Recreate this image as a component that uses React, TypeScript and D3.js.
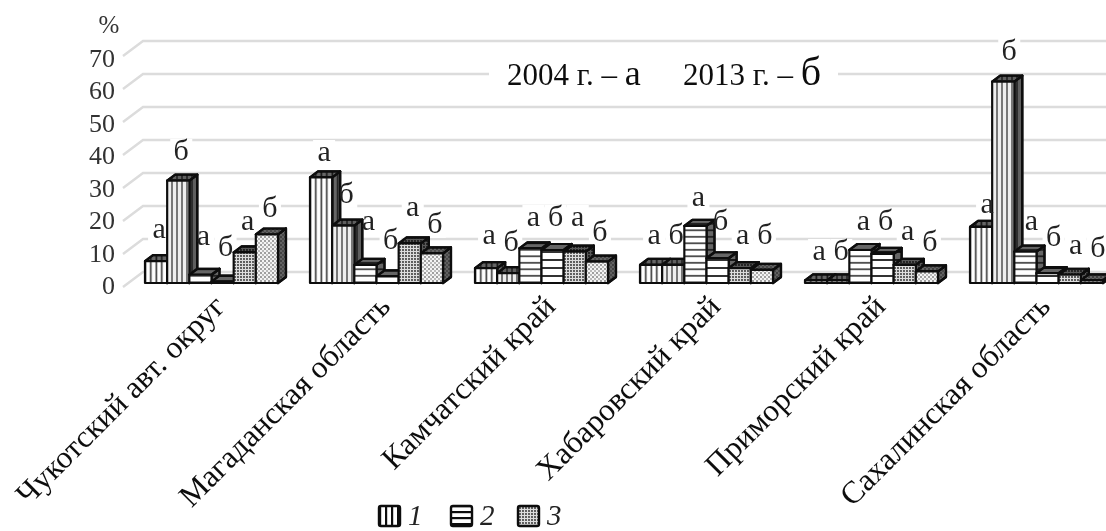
import React from "react";
import * as d3 from "d3";

const categories = ["Чукотский авт. округ", "Магаданская область", "Камчатский край", "Хабаровский край", "Приморский край", "Сахалинская область"];
const barKeys = ["1а", "1б", "2а", "2б", "3а", "3б"];
const barLetters = ["а", "б", "а", "б", "а", "б"];
const chukotka = [6.6, 31, 2.5, 0.4, 9.3, 14.7];
const magadan = [32, 17.4, 5.5, 2, 12, 9];
const kamchatka = [4.5, 3, 10.5, 10, 9.5, 6.5];
const khabarovsk = [5.5, 5.5, 17.3, 7.5, 4.5, 4];
const primorsky = [0.8, 0.8, 10, 8.8, 5.5, 3.5];
const sakhalin = [17, 61, 9.5, 3, 2.5, 0.8];
const seriesByCategory = [chukotka, magadan, kamchatka, khabarovsk, primorsky, sakhalin];
// heights (in % units) at which the а/б captions float
const capChukotka = [16, 39.7, 14, 10.6, 18.5, 22.4];
const capMagadan = [39.4, 26.7, 18.5, 12.7, 22.7, 17.6];
const capKamchatka = [14.2, 12.1, 19.7, 19.7, 19.7, 15.2];
const capKhabarovsk = [14.2, 14.2, 25.8, 18.5, 14.2, 14.2];
const capPrimorsky = [9.4, 9.4, 18.5, 18.5, 15.5, 12.1];
const capSakhalin = [23.6, 70, 18.5, 13.6, 11.2, 10.3];
const captionLevels = [capChukotka, capMagadan, capKamchatka, capKhabarovsk, capPrimorsky, capSakhalin];
const yTicks = [0, 10, 20, 30, 40, 50, 60, 70];
const legendLabels = ["1", "2", "3"];

const FONT = "'Liberation Serif', serif";
const W = 1106, H = 531;
const DX = 8, DY = 6;
const x0 = d3.scaleBand<string>().domain(categories).range([145, 145 + 165 * 6]);
const x1 = d3.scaleBand<string>().domain(barKeys).range([0, 133]);
const y = d3.scaleLinear().domain([0, 70]).range([283, 283 - 3.3 * 70]);
const gridBack = d3.scaleLinear().domain([0, 70]).range([272, 41]);
const tickBase = d3.scaleLinear().domain([0, 70]).range([294, 67]);
const poly = d3.line<[number, number]>().x(d => d[0]).y(d => d[1]);
const patternFor = (i: number) => `url(#p${i})`;

function Bar({ x, v, i }: { x: number; v: number; i: number }) {
  const w = x1.bandwidth();
  const t = y(v), b = y(0);
  const top: [number, number][] = [[x, t], [x + DX, t - DY], [x + w + DX, t - DY], [x + w, t]];
  const side: [number, number][] = [[x + w, t], [x + w + DX, t - DY], [x + w + DX, b - DY], [x + w, b]];
  const front: [number, number][] = [[x, t], [x + w, t], [x + w, b], [x, b]];
  const p = patternFor(i);
  return (
    <g stroke="#111" strokeWidth={2.2} strokeLinejoin="round">
      <path d={poly(side)! + "Z"} fill={p} />
      <path d={poly(side)! + "Z"} fill="rgba(0,0,0,0.6)" />
      <path d={poly(top)! + "Z"} fill={p} />
      <path d={poly(top)! + "Z"} fill="rgba(0,0,0,0.6)" />
      <path d={poly(front)! + "Z"} fill={p} />
    </g>
  );
}

export default function App() {
  const cx = (c: string, k: string) => x0(c)! + x1(k)! + x1.bandwidth() / 2 + (c === categories[5] ? 6 : 3);
  return (
    <svg width={W} height={H} viewBox={`0 0 ${W} ${H}`} style={{ position: "absolute", left: 0, top: 0, background: "#fff" }} fontFamily={FONT}>
      <defs>
        <filter id="soft" x="-2%" y="-2%" width="104%" height="104%"><feGaussianBlur stdDeviation="0.55" /></filter>
        <pattern id="p0" width="5.5" height="5.5" patternUnits="userSpaceOnUse"><rect width="5.5" height="5.5" fill="#fff" /><rect x="1.5" width="1.6" height="5.5" fill="#333" /></pattern>
        <pattern id="p1" width="5" height="5" patternUnits="userSpaceOnUse"><rect width="5" height="5" fill="#eee" /><rect x="1" width="2" height="5" fill="#777" /></pattern>
        <pattern id="p2" width="6.5" height="6.5" patternUnits="userSpaceOnUse"><rect width="6.5" height="6.5" fill="#fff" /><rect y="2" width="6.5" height="1.6" fill="#333" /></pattern>
        <pattern id="p3" width="8" height="8" patternUnits="userSpaceOnUse"><rect width="8" height="8" fill="#fff" /><rect y="3" width="8" height="2" fill="#333" /></pattern>
        <pattern id="p4" width="3" height="3" patternUnits="userSpaceOnUse"><rect width="3" height="3" fill="#ddd" /><circle cx="1" cy="1" r="0.9" fill="#222" /></pattern>
        <pattern id="p5" width="4" height="4" patternUnits="userSpaceOnUse"><rect width="4" height="4" fill="#f4f4f4" /><circle cx="1" cy="1" r="0.8" fill="#333" /><circle cx="3" cy="3" r="0.7" fill="#555" /></pattern>
        <pattern id="lg2" width="6" height="6" patternUnits="userSpaceOnUse"><rect width="6" height="6" fill="#fff" /><rect y="1" width="6" height="2.2" fill="#111" /></pattern>
        <pattern id="lg1" width="6" height="6" patternUnits="userSpaceOnUse"><rect width="6" height="6" fill="#fff" /><rect x="1" width="2.2" height="6" fill="#111" /></pattern>
      </defs>
      <g filter="url(#soft)">
        {yTicks.map(t => (
          <g key={t}>
            <path d={poly([[123, gridBack(t) + 15], [143, gridBack(t)], [W, gridBack(t)]])!} fill="none" stroke="#dcdcdc" strokeWidth={2.4} />
            <text x={115} y={tickBase(t)} textAnchor="end" fontSize={26} fill="#333">{t}</text>
          </g>
        ))}
        <text x={109} y={33} textAnchor="middle" fontSize={25} fill="#333">%</text>
        <rect x={489} y={58} width={349} height={32} fill="#fff" />
        <text x={507} y={85} fontSize={31} fill="#111">2004 г. – <tspan fontSize={36}>а</tspan></text>
        <text x={683} y={85} fontSize={31} fill="#111">2013 г. – <tspan fontSize={40}>б</tspan></text>
        {categories.map((c, ci) => barKeys.map((k, i) => (
          <rect key={c + k} x={cx(c, k) - 11} y={y(captionLevels[ci][i]) - 13} width={22} height={26} fill="#fff" />
        )))}
        {categories.map((c, ci) => (
          <g key={c}>
            {barKeys.map((k, i) => <Bar key={k} x={x0(c)! + x1(k)!} v={seriesByCategory[ci][i]} i={i} />)}
          </g>
        ))}
        {categories.map((c, ci) => barKeys.map((k, i) => (
          <text key={c + k} x={cx(c, k)} y={y(captionLevels[ci][i]) + 8} textAnchor="middle" fontSize={30} fill="#222">{barLetters[i]}</text>
        )))}
        {categories.map(c => (
          <text key={c} transform={`translate(${x0(c)! + 82},${308}) rotate(-45)`} textAnchor="end" fontSize={31.5} fill="#111">{c}</text>
        ))}
        {legendLabels.map((l, i) => {
          const lx = [378, 450, 517][i];
          return (
            <g key={l}>
              <rect x={lx + 1} y={506} width={21} height={20} rx={2} fill={`url(#${["lg1", "lg2", "p4"][i]})`} stroke="#111" strokeWidth={2.4} />
              <text x={lx + 30} y={525} fontSize={29} fontStyle="italic" fill="#222">{l}</text>
            </g>
          );
        })}
      </g>
    </svg>
  );
}
